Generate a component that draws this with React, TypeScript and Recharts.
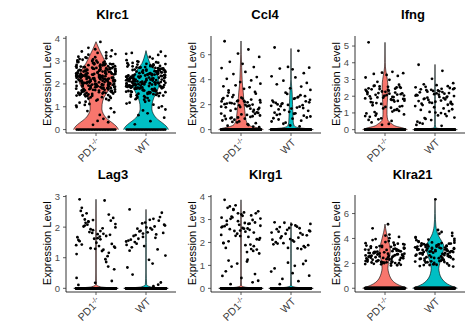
import React from 'react';
import { ComposedChart, Area, Scatter, XAxis, YAxis } from 'recharts';

const FONT = '"Liberation Sans", Arial, Helvetica, sans-serif';
const FILLS = ['#F8766D', '#00BFC4'];
const GROUP_TICKS = [1, 2];

// fixed jitter pattern (fraction of jitter half-width)
const JITTER = [-0.82, 0.37, -0.15, 0.91, -0.56, 0.08, 0.64, -0.97, 0.22, -0.38, 0.79, -0.71, 0.51, -0.04, 0.97, -0.27, -0.88, 0.43, 0.15, -0.62, 0.7, -0.47, 0.3, -0.93, 0.86, -0.19, 0.58, -0.76, 0.02, 0.33, -0.52, 0.95, -0.09, -0.67, 0.47, -0.33, 0.74, -0.99, 0.19, 0.61, -0.43];

// ---------- Klrc1 ----------
const klrc1PdLevels = [0, 0.15, 0.3, 0.5, 0.7, 0.9, 1.1, 1.4, 1.7, 2.0, 2.3, 2.6, 2.9, 3.2, 3.5, 3.85];
const klrc1PdWidths = [1.0, 0.9, 0.72, 0.46, 0.32, 0.26, 0.27, 0.35, 0.55, 0.72, 0.78, 0.65, 0.45, 0.3, 0.15, 0];
const klrc1WtLevels = [0, 0.15, 0.3, 0.5, 0.7, 0.9, 1.1, 1.4, 1.7, 2.0, 2.3, 2.6, 2.9, 3.1, 3.46];
const klrc1WtWidths = [1.0, 0.9, 0.72, 0.46, 0.32, 0.26, 0.27, 0.35, 0.5, 0.58, 0.55, 0.4, 0.18, 0.1, 0];
const klrc1PdValues = [
  2.31, 1.84, 2.67, 2.12, 1.53, 2.94, 2.23, 1.91, 2.72, 1.36, 2.45, 2.04, 3.12, 1.73, 2.52, 2.18, 1.62, 2.83, 2.07, 2.36,
  1.44, 2.63, 1.95, 3.03, 2.15, 2.41, 1.81, 2.76, 1.27, 2.26, 2.55, 1.66, 2.91, 2.01, 2.34, 1.77, 3.21, 2.09, 2.61, 1.93,
  2.47, 1.52, 2.85, 2.24, 1.86, 2.58, 1.31, 2.03, 2.71, 2.29, 3.28, 1.64, 2.14, 2.43, 1.97, 2.66, 1.41, 2.96, 2.21, 1.71,
  2.54, 2.02, 3.14, 1.83, 2.33, 2.74, 1.56, 2.11, 2.44, 1.92, 2.81, 1.22, 2.62, 2.19, 3.06, 1.61, 2.06, 2.51, 1.79, 2.37,
  2.77, 1.47, 2.16, 2.93, 1.74, 2.42, 2.05, 3.36, 1.89, 2.27, 2.64, 1.54, 2.86, 2.32, 1.34, 2.13, 2.56, 1.82, 3.19, 2.08,
  2.39, 1.68, 2.69, 2.22, 1.99, 2.49, 1.58, 3.01, 2.17, 2.59, 1.87, 2.35, 1.46, 2.78, 2.25, 1.94, 2.88, 2.1, 1.38, 2.46,
  2.6, 1.76, 2.28, 3.09, 1.63, 2.4, 2.0, 2.73, 1.9, 2.53, 1.49, 2.2, 2.82, 1.69, 2.38, 3.24, 1.85, 2.57, 2.12, 1.59,
  2.98, 2.3, 1.78, 2.65, 2.03, 1.42, 2.48, 2.87, 1.97, 2.21, 1.57, 2.7, 2.14, 3.16, 1.88, 2.44, 1.67, 2.58, 2.26, 1.81,
  2.35, 2.79, 1.51, 2.09, 2.62, 1.96, 3.07, 2.18, 1.72, 2.5, 1.29, 2.41, 2.84, 1.93, 2.27, 1.65, 2.68, 2.01, 3.31, 1.86,
  2.19, 1.74, 2.57, 2.03, 2.88, 1.61, 2.34, 2.46, 1.95, 2.71, 1.83, 2.27, 3.02, 1.58, 2.42, 2.14, 2.66, 1.89, 2.52, 2.09,
  1.68, 2.77, 2.24, 1.97, 2.61, 2.36, 1.79, 2.92, 2.11, 1.53, 2.49, 2.05, 2.83, 1.86, 2.31, 2.69, 1.72, 2.17, 3.17, 2.44,
  1.91, 2.58, 2.22, 1.64, 2.74, 2.01, 2.39, 1.81, 2.96, 2.28, 1.48, 2.63, 2.12, 1.99, 2.54, 2.33, 1.76, 2.86, 2.07, 2.47,
  1.12, 0.93, 1.05, 0.64, 0.32, 0.81, 1.18, 0.47, 0.21, 0.76, 1.08, 0.38, 0.55, 0.99, 3.84, 3.58, 3.47, 3.42, 3.38, 3.52,
];
const klrc1WtValues = [
  2.12, 1.71, 2.48, 1.95, 2.63, 1.38, 2.27, 2.01, 2.81, 1.57, 2.34, 1.86, 2.55, 2.09, 1.64, 2.72, 1.92, 2.41, 1.27, 2.18,
  2.66, 1.79, 2.23, 2.91, 1.49, 2.06, 2.44, 1.83, 2.58, 2.15, 1.33, 2.37, 1.98, 2.77, 1.68, 2.29, 2.52, 1.89, 2.03, 2.69,
  1.43, 2.21, 2.86, 1.75, 2.39, 2.11, 1.61, 2.61, 1.94, 2.47, 2.97, 1.81, 2.26, 1.52, 2.74, 2.05, 2.33, 1.69, 2.56, 1.91,
  2.14, 2.79, 1.37, 2.43, 1.87, 2.64, 2.0, 1.58, 2.31, 2.88, 1.73, 2.19, 2.51, 1.46, 2.36, 1.97, 2.71, 2.08, 1.66, 2.45,
  2.93, 1.84, 2.25, 1.55, 2.59, 2.13, 1.78, 2.4, 2.02, 3.04, 1.63, 2.32, 2.67, 1.9, 2.17, 1.41, 2.53, 2.07, 2.83, 1.76,
  2.28, 1.96, 2.62, 1.5, 2.38, 2.76, 1.85, 2.1, 2.49, 1.67, 2.22, 3.11, 1.93, 2.57, 1.31, 2.04, 2.7, 1.8, 2.35, 2.16,
  1.59, 2.46, 2.85, 1.88, 2.24, 1.72, 2.6, 2.0, 2.42, 1.47, 2.3, 2.78, 1.99, 2.19, 1.65, 2.54, 2.08, 3.22, 1.82, 2.37,
  2.07, 1.64, 2.36, 1.91, 2.54, 1.77, 2.22, 2.68, 1.85, 2.43, 1.53, 2.16, 2.75, 1.98, 2.29, 1.71, 2.61, 2.04, 2.47, 1.88,
  2.32, 1.62, 2.57, 2.11, 1.94, 2.82, 1.74, 2.26, 2.41, 1.56, 2.65, 2.02, 2.19, 1.83, 2.5, 2.09, 1.69, 2.37, 2.87, 1.93,
  2.13, 1.79, 2.44, 2.24, 1.6, 2.72, 1.97, 2.34, 1.87, 2.53, 2.06, 1.45, 2.63, 2.18, 1.81, 2.39, 2.01, 2.92, 1.72, 2.28,
  3.41, 3.32, 3.18, 3.27, 2.99, 1.18, 1.09, 0.84, 0.52, 0.23, 0.71, 0.96, 1.14, 0.37, 0.63, 1.02, 3.36, 2.95, 1.22, 0.88,
];
const klrc1Zeros = [25, 25];

// ---------- Ccl4 ----------
const ccl4PdLevels = [0, 0.1, 0.2, 0.35, 0.6, 1.0, 1.5, 2.0, 2.5, 3.0, 3.5, 4.0, 5.0, 6.0, 7.1];
const ccl4PdWidths = [1.0, 0.85, 0.6, 0.35, 0.25, 0.2, 0.17, 0.14, 0.12, 0.1, 0.07, 0.05, 0.03, 0.01, 0];
const ccl4WtLevels = [0, 0.08, 0.15, 0.3, 0.6, 1.0, 1.5, 2.0, 2.5, 3.0, 3.4, 4.0, 5.0, 6.5];
const ccl4WtWidths = [1.0, 0.7, 0.35, 0.15, 0.1, 0.09, 0.08, 0.07, 0.06, 0.05, 0.03, 0.01, 0.005, 0];
const ccl4PdValues = [
  7.08, 6.42, 6.09, 5.82, 5.43, 5.27, 5.01, 4.93, 4.62, 4.45, 4.21, 4.07, 3.94, 3.81, 3.68, 3.55, 3.47, 3.39, 3.27, 3.14, 3.02,
  2.12, 1.87, 2.45, 1.63, 2.28, 2.01, 1.79, 2.56, 2.19, 1.52, 2.36, 1.95, 2.71, 1.68, 2.07, 2.88, 1.84, 2.23, 1.45, 2.61,
  2.04, 1.91, 2.32, 1.74, 2.15, 2.49, 1.58, 2.26, 1.99, 2.77, 1.38, 2.09, 2.41, 1.81, 2.18, 1.66, 2.53, 1.93, 2.3, 2.97,
  1.27, 0.96, 1.18, 0.73, 1.34, 0.58, 1.07, 0.85, 1.22, 0.44, 0.91, 1.13, 0.66, 0.31, 1.02, 0.79, 0.52, 1.29, 0.88, 0.24,
  0.62, 1.09, 0.37, 0.97, 0.19,
];
const ccl4WtValues = [
  6.58, 6.31, 5.02, 4.96, 4.89, 4.83, 4.52, 4.27, 4.18, 3.92, 3.74, 3.63, 3.45, 3.31, 3.18,
  2.96, 2.21, 1.84, 2.47, 1.62, 2.68, 2.05, 1.77, 2.33, 1.51, 2.86, 1.96, 2.14, 1.69, 2.58,
  1.88, 2.39, 1.43, 2.02, 2.76, 1.57, 2.27, 1.91, 2.51, 1.73, 2.1, 1.36, 2.63, 1.98, 2.19,
  1.24, 0.88, 1.12, 0.65, 1.31, 0.47, 0.97, 1.18, 0.72, 0.33, 1.05, 0.56, 0.91, 0.26, 1.27, 0.81,
];
const ccl4Zeros = [150, 150];

// ---------- Ifng ----------
const ifngPdLevels = [0, 0.1, 0.2, 0.35, 0.6, 0.9, 1.2, 1.6, 2.0, 2.4, 2.8, 3.2, 3.5, 4.0, 5.22];
const ifngPdWidths = [1.0, 0.8, 0.5, 0.3, 0.12, 0.09, 0.09, 0.1, 0.12, 0.13, 0.12, 0.08, 0.04, 0.01, 0];
const ifngWtLevels = [0, 0.05, 0.12, 0.3, 1.0, 2.0, 3.0, 3.9];
const ifngWtWidths = [1.0, 0.3, 0.04, 0.015, 0.01, 0.01, 0.005, 0];
const ifngPdValues = [
  5.22, 3.46, 3.41, 3.38, 3.33, 3.27, 3.21, 3.12, 2.98, 2.86,
  2.12, 1.86, 2.45, 2.01, 1.73, 2.58, 2.24, 1.95, 2.37, 1.62, 2.69, 2.08, 1.81, 2.31, 2.17, 1.54, 2.52, 1.99, 2.26, 1.78,
  2.63, 2.04, 1.91, 2.41, 1.68, 2.19, 2.55, 1.87, 2.33, 2.1, 1.59, 2.47, 1.96, 2.28, 1.84, 2.61, 2.06, 1.72, 2.38, 2.15,
  1.93, 2.5, 1.65, 2.22, 2.02, 1.83, 2.43, 2.13, 1.76, 2.56,
  1.46, 1.12, 0.84, 1.31, 0.97, 1.41, 0.68, 1.19, 0.77, 1.36, 0.52, 1.05, 0.91, 1.27, 0.43, 1.16, 0.62, 1.38, 0.81, 0.34,
  1.22, 0.95, 0.58, 1.08, 0.29,
];
const ifngWtValues = [
  3.88, 3.52, 3.04, 2.78, 2.71, 2.66, 2.6,
  2.53, 1.96, 2.27, 1.58, 2.41, 1.81, 2.12, 2.47, 1.63, 2.05, 1.89, 2.34, 1.47, 2.19, 2.56, 1.74, 2.08, 1.52, 2.38, 1.93,
  2.23, 1.67, 2.44, 1.86, 2.01, 2.31, 1.55, 2.15, 1.78, 2.49, 1.41, 2.09, 1.98, 2.36, 1.71, 2.25, 1.6, 2.42, 1.83, 2.17,
  1.49, 2.03, 2.29, 1.91, 1.66,
  1.18, 0.93, 1.34, 0.72, 1.06, 0.48, 1.27, 0.85, 0.36, 1.11, 0.64, 0.99, 0.28, 1.22, 0.57, 0.81, 0.41, 1.02, 0.23, 0.69,
];
const ifngZeros = [170, 170];

// ---------- Lag3 ----------
const lag3PdLevels = [0, 0.05, 0.12, 0.5, 1.5, 2.0, 2.91];
const lag3PdWidths = [1.0, 0.2, 0.02, 0.01, 0.01, 0.01, 0];
const lag3WtLevels = [0, 0.05, 0.12, 0.5, 1.5, 2.58];
const lag3WtWidths = [1.0, 0.2, 0.03, 0.01, 0.01, 0];
const lag3PdValues = [
  2.91, 1.78, 2.23, 1.36, 2.05, 1.64, 2.41, 1.12, 1.87, 2.19, 1.45, 2.63, 1.71, 1.29, 2.1, 1.93, 1.58, 2.87, 1.38, 2.02,
  1.75, 2.45, 1.22, 1.67, 2.3, 1.81, 1.05, 2.53, 1.49, 1.96, 2.14, 1.33, 1.62, 2.38, 0.95, 1.84, 2.21, 1.41, 1.69, 0.71,
  2.08, 1.54, 1.26, 1.9, 0.62, 2.25, 1.77, 1.16, 0.34, 1.6, 2.17, 0.24, 1.43, 0.86, 0.18, 1.99, 1.31, 0.11,
];
const lag3WtValues = [
  2.58, 2.27, 1.68, 2.08, 1.51, 1.83, 2.21, 1.42, 1.97, 1.62, 2.47, 1.34, 1.76, 2.15, 1.07, 1.88, 1.56, 2.02, 0.93, 1.71,
  2.33, 1.46, 1.92, 0.68, 1.81, 2.12, 1.27, 1.59, 1.99, 0.81, 1.74, 2.05, 1.38, 0.45, 1.65, 1.86, 0.19, 1.53, 2.24, 0.12,
  1.95, 1.23, 0.07, 1.79,
];
const lag3Zeros = [350, 350];

// ---------- Klrg1 ----------
const klrg1PdLevels = [0, 0.05, 0.12, 0.5, 1.5, 2.5, 3.0, 3.86];
const klrg1PdWidths = [1.0, 0.2, 0.02, 0.01, 0.01, 0.015, 0.01, 0];
const klrg1WtLevels = [0, 0.05, 0.12, 0.5, 1.5, 2.2, 2.88];
const klrg1WtWidths = [1.0, 0.2, 0.02, 0.01, 0.01, 0.01, 0];
const klrg1PdValues = [
  3.86, 2.81, 3.27, 2.12, 3.57, 2.63, 1.84, 3.08, 2.47, 3.42, 1.69, 2.94, 3.18, 2.28, 2.73, 3.62, 1.97, 2.55, 3.31, 2.05,
  2.87, 3.13, 1.58, 2.69, 3.36, 2.38, 2.98, 1.76, 3.22, 2.61, 3.03, 2.19, 2.77, 3.51, 1.91, 2.5, 3.27, 2.33, 2.85, 1.63,
  3.09, 2.71, 2.24, 2.93, 1.52, 2.58, 3.16, 2.43, 2.66, 1.88, 3.45, 2.14, 2.78, 1.71, 2.52, 3.04, 2.29, 1.98, 2.82, 2.6,
  1.21, 0.62, 0.95, 1.17, 0.54, 0.33, 1.08, 0.26, 0.74, 0.45, 1.25, 0.18,
];
const klrg1WtValues = [
  2.88, 2.21, 1.76, 2.52, 2.67, 2.09, 1.84, 2.43, 2.74, 1.97, 2.31, 2.58, 1.71, 2.15, 2.81, 2.38, 1.92, 2.62, 2.04, 2.47,
  1.79, 2.27, 2.69, 2.12, 1.88, 2.55, 2.34, 2.01, 2.78, 1.74, 2.19, 2.49, 2.63, 1.95, 2.41, 2.86,
  1.2, 0.73, 0.98, 1.06, 0.41, 0.87, 0.31, 1.12, 0.55, 0.18, 0.66,
];
const klrg1Zeros = [300, 280];

// ---------- Klra21 ----------
const klra21PdLevels = [0, 0.15, 0.35, 0.6, 0.9, 1.2, 1.6, 2.0, 2.5, 3.0, 3.5, 4.0, 4.5, 5.15];
const klra21PdWidths = [1.0, 0.76, 0.52, 0.34, 0.23, 0.17, 0.13, 0.15, 0.2, 0.24, 0.2, 0.13, 0.06, 0];
const klra21WtLevels = [0, 0.15, 0.35, 0.6, 0.9, 1.2, 1.6, 2.0, 2.5, 3.0, 3.4, 3.8, 4.2, 4.6, 5.0, 6.0, 7.14];
const klra21WtWidths = [1.0, 0.78, 0.55, 0.38, 0.26, 0.2, 0.17, 0.21, 0.29, 0.37, 0.39, 0.29, 0.16, 0.08, 0.04, 0.01, 0];
const klra21PdValues = [
  2.84, 2.12, 3.41, 2.57, 1.96, 3.08, 2.73, 3.62, 2.31, 2.95, 1.88, 3.24, 2.66, 2.04, 3.51, 2.79, 2.22, 3.15, 2.48, 3.87,
  2.01, 2.91, 3.33, 2.39, 2.69, 1.92, 3.02, 2.58, 3.71, 2.15, 2.86, 3.19, 2.44, 2.07, 3.46, 2.76, 2.27, 3.11, 2.62, 1.85,
  3.29, 2.53, 2.98, 2.09, 3.55, 2.81, 2.34, 3.06, 2.18, 4.02, 2.71, 2.43, 3.37, 2.02, 2.89, 3.21, 2.56, 2.14, 3.66, 2.77,
  2.29, 3.01, 2.49, 1.98, 3.43, 2.67, 2.11, 3.13, 2.83, 4.23, 2.37, 2.93, 3.27, 2.05, 2.61, 3.49, 2.24, 2.99, 1.94, 3.79,
  2.74, 2.16, 3.09, 2.52, 3.31, 2.41, 2.87, 2.08, 3.58, 2.64, 4.31, 2.19, 2.97, 2.46, 3.18, 2.03, 2.78, 3.39, 2.32, 2.59,
  5.14, 4.81, 4.12, 3.95, 1.82,
];
const klra21WtValues = [
  3.12, 2.45, 3.68, 2.91, 1.86, 3.34, 2.73, 4.05, 2.18, 3.51, 2.96, 2.37, 3.27, 1.94, 3.82, 2.64, 3.09, 2.29, 3.45, 2.81,
  3.58, 2.07, 3.21, 2.69, 4.21, 2.51, 3.38, 1.78, 2.98, 3.63, 2.22, 3.16, 2.86, 3.47, 2.11, 3.91, 2.58, 3.29, 2.41, 1.99,
  3.05, 3.72, 2.76, 3.24, 2.33, 3.55, 1.89, 3.01, 2.62, 4.38, 3.19, 2.47, 3.41, 2.84, 2.03, 3.66, 2.94, 3.13, 2.26, 3.49,
  2.71, 1.83, 3.31, 2.55, 3.86, 2.99, 2.16, 3.43, 2.79, 3.07, 4.52, 2.38, 3.22, 1.92, 3.61, 2.67, 3.36, 2.88, 2.14, 3.53,
  3.02, 2.49, 3.77, 2.31, 3.18, 1.74, 2.92, 3.44, 2.6, 4.11, 3.27, 2.09, 3.59, 2.83, 3.11, 2.43, 3.97, 1.87, 3.35, 2.74,
  4.68, 3.08, 2.53, 3.46, 2.21, 3.26, 4.44, 2.97, 3.15, 2.35, 7.14,
];
const klra21Zeros = [150, 150];

// ---------- panel definitions ----------
const TITLES = ['Klrc1', 'Ccl4', 'Ifng', 'Lag3', 'Klrg1', 'Klra21'];
const Y_TICKS = [[0, 1, 2, 3, 4], [0, 2, 4, 6], [0, 1, 2, 3, 4, 5], [0, 1, 2, 3], [0, 1, 2, 3, 4], [0, 2, 4, 6]];
const Y_DOMAINS = [[-0.15, 4.1], [-0.27, 7.5], [-0.2, 5.6], [-0.12, 3.05], [-0.16, 4.07], [-0.3, 7.49]];
const VIOLINS = [
  [klrc1PdLevels, klrc1PdWidths, klrc1WtLevels, klrc1WtWidths],
  [ccl4PdLevels, ccl4PdWidths, ccl4WtLevels, ccl4WtWidths],
  [ifngPdLevels, ifngPdWidths, ifngWtLevels, ifngWtWidths],
  [lag3PdLevels, lag3PdWidths, lag3WtLevels, lag3WtWidths],
  [klrg1PdLevels, klrg1PdWidths, klrg1WtLevels, klrg1WtWidths],
  [klra21PdLevels, klra21PdWidths, klra21WtLevels, klra21WtWidths],
];
const POINTS = [
  [klrc1PdValues, klrc1WtValues, klrc1Zeros],
  [ccl4PdValues, ccl4WtValues, ccl4Zeros],
  [ifngPdValues, ifngWtValues, ifngZeros],
  [lag3PdValues, lag3WtValues, lag3Zeros],
  [klrg1PdValues, klrg1WtValues, klrg1Zeros],
  [klra21PdValues, klra21WtValues, klra21Zeros],
];

// ---------- layout ----------
const COL_X = [66, 211, 355];
const ROW_TOP = [35.5, 194.8];
const TITLE_X = [112.5, 265, 413, 113, 265.5, 412.5];
const TITLE_Y = [18.5, 178.5];
const PLOT_H = 97;
const YAXIS_W = 50;
const XAXIS_H = 30;
const TOP_M = 10;
const CHART_W = YAXIS_W + 110 + 4;
const CHART_H = TOP_M + PLOT_H + XAXIS_H;
const HALF_W = 0.45;
const JIT_W = 0.4;

function violinRows(levels: number[], widths: number[], center: number) {
  return levels.map((lv, i) => ({ y: lv, v: [center - HALF_W * widths[i], center + HALF_W * widths[i]] }));
}

function jitterPoints(values: number[], zeros: number, center: number) {
  const out = values.map((v, i) => ({ x: center + JIT_W * JITTER[i % JITTER.length], y: v }));
  for (let k = 0; k < zeros; k++) out.push({ x: center - JIT_W + (2 * JIT_W * (k + 0.5)) / zeros, y: 0 });
  return out;
}

const XTick = (props: any) => {
  const { x, y, payload } = props;
  const idx = Math.round(payload.value) - 1;
  return (
    <g transform={`translate(${x},${y})`}>
      <text transform="rotate(-45)" textAnchor="end" dy="0.71em" fontSize={10.5} fill="#3a3a3a" fontFamily={FONT}>
        {idx === 0 ? (
          <>
            <tspan>PD1</tspan>
            <tspan dy={-4} fontSize={7}>-/-</tspan>
          </>
        ) : (
          'WT'
        )}
      </text>
    </g>
  );
};

const Dot = (props: any) => <circle cx={props.cx} cy={props.cy} r={1.4} fill="#000" />;

function Panel({ i }: { i: number }) {
  const col = i % 3;
  const row = Math.floor(i / 3);
  const [pl, pw, wl, ww] = VIOLINS[i];
  const [pv, wv, zeros] = POINTS[i];
  const pdRows = violinRows(pl, pw, 1);
  const wtRows = violinRows(wl, ww, 2);
  const pts = [...jitterPoints(pv, zeros[0], 1), ...jitterPoints(wv, zeros[1], 2)];
  return (
    <div style={{ position: 'absolute', left: COL_X[col] - YAXIS_W, top: ROW_TOP[row] - TOP_M }}>
      <ComposedChart
        layout="vertical"
        width={CHART_W}
        height={CHART_H}
        data={pdRows}
        margin={{ top: TOP_M, right: 4, bottom: 0, left: 0 }}
      >
        <XAxis
          type="number"
          dataKey="x"
          domain={[0.4, 2.6]}
          ticks={GROUP_TICKS}
          allowDataOverflow
          height={XAXIS_H}
          interval={0}
          tickSize={3}
          tickLine={{ stroke: '#333', strokeWidth: 0.8 }}
          axisLine={{ stroke: '#000', strokeWidth: 0.8 }}
          tick={XTick}
        />
        <YAxis
          type="number"
          dataKey="y"
          reversed
          domain={Y_DOMAINS[i]}
          ticks={Y_TICKS[i]}
          allowDataOverflow
          width={YAXIS_W}
          interval={0}
          tickSize={3}
          tickMargin={3}
          tickLine={{ stroke: '#333', strokeWidth: 0.8 }}
          axisLine={{ stroke: '#000', strokeWidth: 0.8 }}
          tick={{ fontSize: 9.5, fill: '#4d4d4d', fontFamily: FONT }}
        />
        <Area data={pdRows} dataKey="v" type="monotone" fill={FILLS[0]} fillOpacity={1} stroke="#000" strokeWidth={0.6} isAnimationActive={false} dot={false} activeDot={false} />
        <Area data={wtRows} dataKey="v" type="monotone" fill={FILLS[1]} fillOpacity={1} stroke="#000" strokeWidth={0.6} isAnimationActive={false} dot={false} activeDot={false} />
        <Scatter data={pts} shape={Dot} isAnimationActive={false} />
      </ComposedChart>
    </div>
  );
}

export default function App() {
  return (
    <div style={{ position: 'absolute', left: 0, top: 0, width: 472, height: 322, background: '#fff', fontFamily: FONT }}>
      {TITLES.map((_, i) => (
        <Panel key={i} i={i} />
      ))}
      <svg width={472} height={322} style={{ position: 'absolute', left: 0, top: 0, pointerEvents: 'none' }}>
        {TITLES.map((t, i) => {
          const col = i % 3;
          const row = Math.floor(i / 3);
          return (
            <g key={t}>
              <text x={TITLE_X[i]} y={TITLE_Y[row]} textAnchor="middle" fontWeight="bold" fontSize={13} fontFamily={FONT} fill="#000">
                {t}
              </text>
              <text
                transform={`translate(${COL_X[col] - 19.5},${ROW_TOP[row] + PLOT_H / 2}) rotate(-90)`}
                textAnchor="middle"
                dominantBaseline="central"
                fontSize={11}
                fontFamily={FONT}
                fill="#000"
              >
                Expression Level
              </text>
            </g>
          );
        })}
      </svg>
    </div>
  );
}
